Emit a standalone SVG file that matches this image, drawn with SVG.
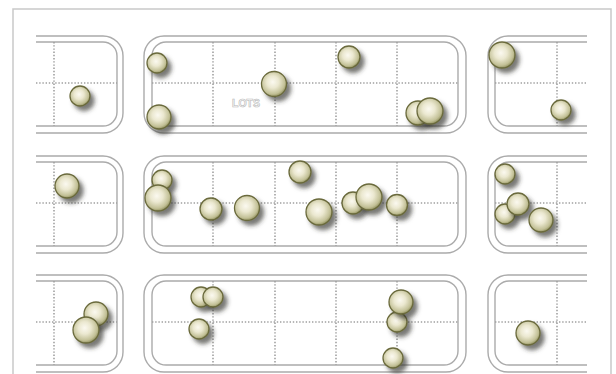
<svg xmlns="http://www.w3.org/2000/svg" width="616" height="374" viewBox="0 0 616 374">
<style>
.frame{fill:none;stroke:#c9c9c9;stroke-width:1.5}
.blk{fill:none;stroke:#ababab;stroke-width:1.4}
.dot{fill:none;stroke:#a0a0a0;stroke-width:1.6;stroke-dasharray:1.4 1.8}
.ball{fill:url(#bg);stroke:#6a6a3c;stroke-width:1.3;filter:url(#sh)}
.lbl{font-family:"Liberation Sans",Arial,sans-serif;font-size:10.5px;font-weight:bold;fill:#fafafa;stroke:#b9b9b9;stroke-width:0.6}
</style>
<defs>
<radialGradient id="bg" cx="0.45" cy="0.42" r="0.6">
<stop offset="0" stop-color="#fbf9f0"/>
<stop offset="0.4" stop-color="#ebe8d0"/>
<stop offset="0.8" stop-color="#c2c096"/>
<stop offset="1" stop-color="#8c8b58"/>
</radialGradient>
<filter id="sh" x="-50%" y="-50%" width="220%" height="220%">
<feDropShadow dx="4" dy="4.5" stdDeviation="2.2" flood-color="#33332a" flood-opacity="0.65"/>
</filter>
<g id="row">
<path class="blk" d="M36,36 H103 A20,20 0 0 1 123,56 V113 A20,20 0 0 1 103,133 H36"/>
<path class="blk" d="M36,42 H103 A14,14 0 0 1 117,56 V112 A14,14 0 0 1 103,126 H36"/>
<line class="dot" x1="36" y1="83" x2="117" y2="83"/>
<line class="dot" x1="54" y1="42" x2="54" y2="126"/>
<rect class="blk" x="144" y="36" width="322" height="97" rx="20"/>
<rect class="blk" x="152" y="42" width="306" height="84" rx="14"/>
<line class="dot" x1="152" y1="83" x2="458" y2="83"/>
<line class="dot" x1="213" y1="42" x2="213" y2="126"/>
<line class="dot" x1="275" y1="42" x2="275" y2="126"/>
<line class="dot" x1="336" y1="42" x2="336" y2="126"/>
<line class="dot" x1="397" y1="42" x2="397" y2="126"/>
<path class="blk" d="M587,36 H508 A20,20 0 0 0 488,56 V113 A20,20 0 0 0 508,133 H587"/>
<path class="blk" d="M587,42 H509 A14,14 0 0 0 495,56 V112 A14,14 0 0 0 509,126 H587"/>
<line class="dot" x1="495" y1="83" x2="587" y2="83"/>
<line class="dot" x1="557" y1="42" x2="557" y2="126"/>
</g>
</defs>
<rect width="616" height="374" fill="#ffffff"/>
<rect class="frame" x="13" y="9" width="598" height="380"/>
<g id="lots">
<use href="#row"/>
<use href="#row" transform="translate(0,120)"/>
<use href="#row" transform="translate(0,239)"/>
<text class="lbl" x="232" y="107">LOTS</text>
</g>
<g id="balls">
<circle class="ball" cx="80" cy="96" r="10"/>
<circle class="ball" cx="157" cy="63" r="10"/>
<circle class="ball" cx="159" cy="117" r="12"/>
<circle class="ball" cx="274" cy="84" r="12.5"/>
<circle class="ball" cx="349" cy="57" r="11"/>
<circle class="ball" cx="418" cy="113" r="12"/>
<circle class="ball" cx="430" cy="111" r="13"/>
<circle class="ball" cx="502" cy="55" r="13"/>
<circle class="ball" cx="561" cy="110" r="10"/>
<circle class="ball" cx="67" cy="186" r="12"/>
<circle class="ball" cx="162" cy="180" r="10"/>
<circle class="ball" cx="158" cy="198" r="13"/>
<circle class="ball" cx="211" cy="209" r="11"/>
<circle class="ball" cx="247" cy="208" r="12.5"/>
<circle class="ball" cx="300" cy="172" r="11"/>
<circle class="ball" cx="319" cy="212" r="13"/>
<circle class="ball" cx="353" cy="203" r="11"/>
<circle class="ball" cx="369" cy="197" r="13"/>
<circle class="ball" cx="397" cy="205" r="10.5"/>
<circle class="ball" cx="505" cy="174" r="10"/>
<circle class="ball" cx="505" cy="214" r="10"/>
<circle class="ball" cx="518" cy="204" r="11"/>
<circle class="ball" cx="541" cy="220" r="12"/>
<circle class="ball" cx="96" cy="314" r="12"/>
<circle class="ball" cx="86" cy="330" r="13"/>
<circle class="ball" cx="201" cy="297" r="10"/>
<circle class="ball" cx="213" cy="297" r="10"/>
<circle class="ball" cx="199" cy="329" r="10"/>
<circle class="ball" cx="397" cy="322" r="10"/>
<circle class="ball" cx="401" cy="302" r="12"/>
<circle class="ball" cx="393" cy="358" r="10"/>
<circle class="ball" cx="528" cy="333" r="12"/>
</g>
</svg>
